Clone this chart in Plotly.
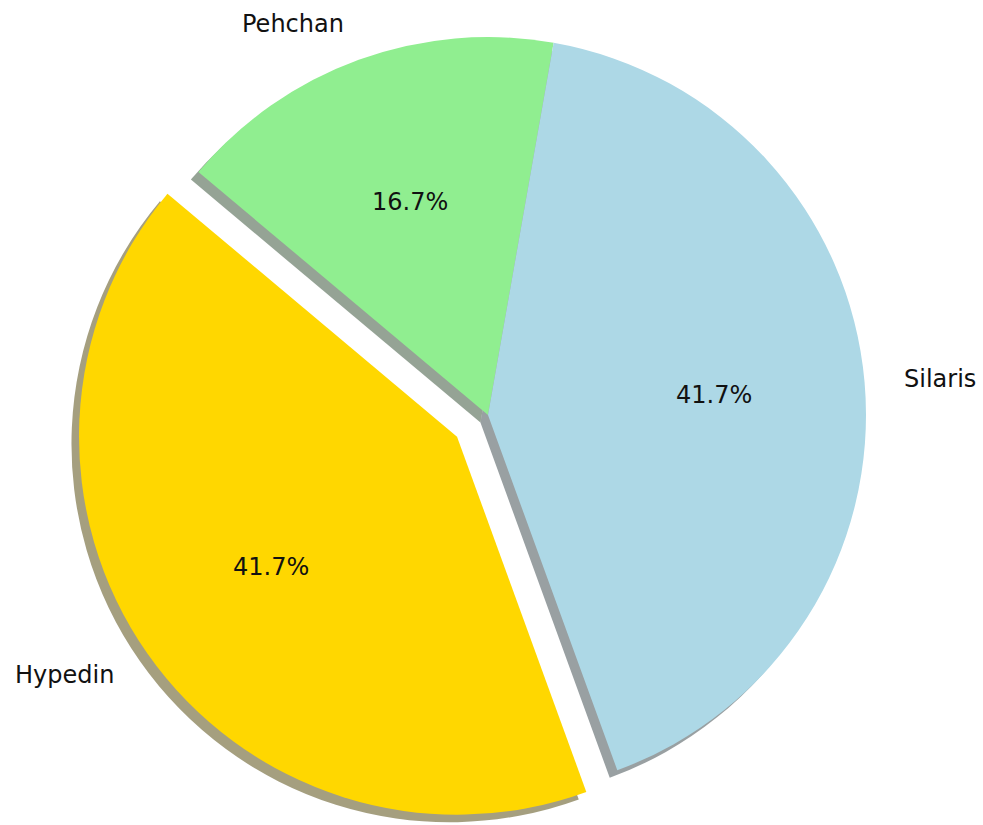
import math
import plotly.graph_objects as go

# ---- data ----
labels = ["Hypedin", "Pehchan", "Silaris"]          # clockwise order
values = [5, 2, 5]
colors = ["#FFD700", "#90EE90", "#ADD8E6"]
explode = [0.1, 0.0, 0.0]
start_angle = 290.0                                  # math degrees, slices go clockwise

# ---- layout constants (pixels) ----
W, H = 983, 825
CX, CY, R = 488.0, 415.0, 378.0
SHADOW = 0.02
FONT = dict(family="DejaVu Sans", size=24, color="#111111")

total = float(sum(values))
mids = []
a = start_angle
for v in values:
    span = 360.0 * v / total
    mids.append(a - span / 2.0)
    a -= span

def shade(hexc):
    h = hexc.lstrip("#")
    r, g, b = (int(h[i:i + 2], 16) for i in (0, 2, 4))
    return "rgba(%d,%d,%d,0.5)" % (round(0.3 * r), round(0.3 * g), round(0.3 * b))

def domain(cx, cy):
    return dict(x=[(cx - R) / W, (cx + R) / W], y=[1 - (cy + R) / H, 1 - (cy - R) / H])

def centre(i):
    ang = math.radians(mids[i])
    return CX + explode[i] * R * math.cos(ang), CY - explode[i] * R * math.sin(ang)

rotation = 90.0 - start_angle
rotation = ((rotation + 360) % 720) - 360

fig = go.Figure()
TRANSP = "rgba(0,0,0,0)"

def add_pie(cx, cy, cols):
    fig.add_trace(go.Pie(
        labels=labels, values=values, sort=False, direction="clockwise",
        rotation=rotation, textinfo="none", hoverinfo="skip",
        marker=dict(colors=cols, line=dict(width=0)),
        domain=domain(cx, cy), showlegend=False,
    ))

groups = {}
for i in range(len(values)):
    groups.setdefault(centre(i), []).append(i)

# shadows first
off = SHADOW * R
for (cx, cy), idx in groups.items():
    cols = [shade(colors[i]) if i in idx else TRANSP for i in range(len(values))]
    add_pie(cx - off, cy + off, cols)
# wedges
for (cx, cy), idx in groups.items():
    cols = [colors[i] if i in idx else TRANSP for i in range(len(values))]
    add_pie(cx, cy, cols)

annotations = []
for i, lab in enumerate(labels):
    cx, cy = centre(i)
    ang = math.radians(mids[i])
    c, s = math.cos(ang), math.sin(ang)
    lx, ly = cx + 1.1 * R * c, cy - 1.1 * R * s
    annotations.append(dict(
        x=lx / W, y=1 - ly / H, xref="paper", yref="paper", text=lab,
        showarrow=False, xanchor="left" if c > 0 else "right", yanchor="middle",
        font=FONT))
    px, py = cx + 0.6 * R * c, cy - 0.6 * R * s
    pct = 100.0 * values[i] / total
    annotations.append(dict(
        x=px / W, y=1 - py / H, xref="paper", yref="paper", text="%.1f%%" % pct,
        showarrow=False, xanchor="center", yanchor="middle", font=FONT))

fig.update_layout(
    width=W, height=H, margin=dict(l=0, r=0, t=0, b=0),
    paper_bgcolor="white", plot_bgcolor="white",
    annotations=annotations,
)

fig.write_html("out.html", config={"displayModeBar": False},
               post_script="document.body.style.margin='0';document.body.style.overflow='hidden';")
